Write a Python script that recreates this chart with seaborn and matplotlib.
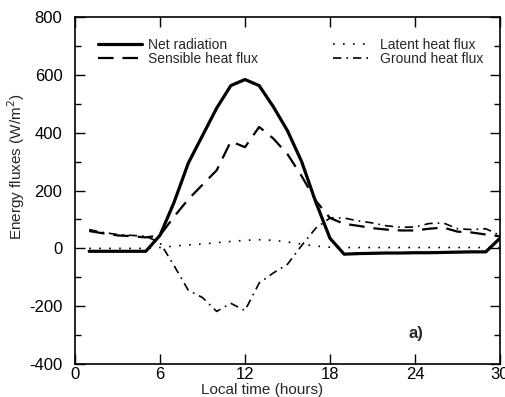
import numpy as np
import pandas as pd
import matplotlib
matplotlib.use("Agg")
import matplotlib.pyplot as plt
import seaborn as sns
from matplotlib.ticker import MultipleLocator

hours = list(range(1, 31))
net_radiation = [-10, -10, -10, -10, -10, 45, 160, 295, 390, 485, 563, 584, 563, 490, 407, 300, 160, 35, -20, -18,
                 -17, -16, -16, -15, -15, -14, -13, -12, -12, 35]
sensible_flux = [60, 52, 45, 42, 38, 45, 110, 170, 220, 270, 370, 350, 420, 380, 326, 250, 165, 105, 85, 78,
                 70, 65, 62, 62, 68, 72, 58, 55, 48, 42]
latent_flux = [0, 0, 0, 0, 0, 3, 8, 12, 15, 20, 24, 28, 30, 28, 22, 15, 8, 4, 3, 3,
               3, 3, 3, 3, 3, 3, 3, 3, 3, 3]
ground_flux = [65, 55, 48, 45, 42, 20, -60, -145, -170, -218, -190, -215, -120, -85, -55, 10, 70, 105, 105, 95,
               88, 78, 73, 74, 86, 88, 68, 65, 68, 45]

df = pd.DataFrame({"hour": hours, "net": net_radiation, "sens": sensible_flux,
                   "lat": latent_flux, "gnd": ground_flux})

sns.set_theme(style="ticks")
plt.rcParams['font.family'] = ['Liberation Sans', 'DejaVu Sans']
plt.rcParams['axes.unicode_minus'] = False

fig = plt.figure(figsize=(5.05, 3.97), dpi=100)
ax = fig.add_axes([0.1485, 0.083, 0.8415, 0.874])

sns.lineplot(data=df, x="hour", y="net", ax=ax, color="black", lw=2.3, label="Net radiation")
sns.lineplot(data=df, x="hour", y="sens", ax=ax, color="black", lw=1.6, label="Sensible heat flux")
sns.lineplot(data=df, x="hour", y="lat", ax=ax, color="black", lw=1.2, label="Latent heat flux")
sns.lineplot(data=df, x="hour", y="gnd", ax=ax, color="black", lw=1.2, label="Ground heat flux")
lines = ax.get_lines()
lines[1].set_dashes((7, 4))
lines[2].set_dashes((1, 5))
lines[3].set_dashes((5, 3, 1, 3))

ax.set_xlim(0, 30)
ax.set_ylim(-400, 800)
ax.xaxis.set_major_locator(MultipleLocator(6))
ax.yaxis.set_major_locator(MultipleLocator(200))
ax.yaxis.set_minor_locator(MultipleLocator(100))
ax.tick_params(which="both", direction="in", top=True, right=True, labelsize=12, colors="black")
ax.tick_params(which="major", length=7, width=1)
ax.tick_params(which="minor", length=4, width=1)
ax.tick_params(axis="y", pad=9)
ax.tick_params(axis="x", pad=2)
for s in ax.spines.values():
    s.set_linewidth(1.2)
    s.set_color("black")

ax.set_xlabel("Local time (hours)", fontsize=11)
ax.set_ylabel("Energy fluxes (W/m$^2$)", fontsize=11)
ax.xaxis.set_label_coords(0.44, -0.056)
ax.yaxis.set_label_coords(-0.113, 0.57)

ax.get_legend().remove()
h, lab = ax.get_legend_handles_labels()
leg1 = ax.legend(h[:2], lab[:2], loc="upper left", bbox_to_anchor=(0.054, 0.94), frameon=False,
                 fontsize=10, handlelength=3.2, handletextpad=0.4, labelspacing=0.0, borderpad=0,
                 borderaxespad=0)
ax.add_artist(leg1)
ax.legend(h[2:], lab[2:], loc="upper left", bbox_to_anchor=(0.607, 0.94), frameon=False,
          fontsize=10, handlelength=2.7, handletextpad=0.7, labelspacing=0.0, borderpad=0,
          borderaxespad=0)

ax.text(24.1, -295, "a)", fontsize=12, fontweight="bold", ha="center", va="center")

fig.savefig("out.png", dpi=100)
